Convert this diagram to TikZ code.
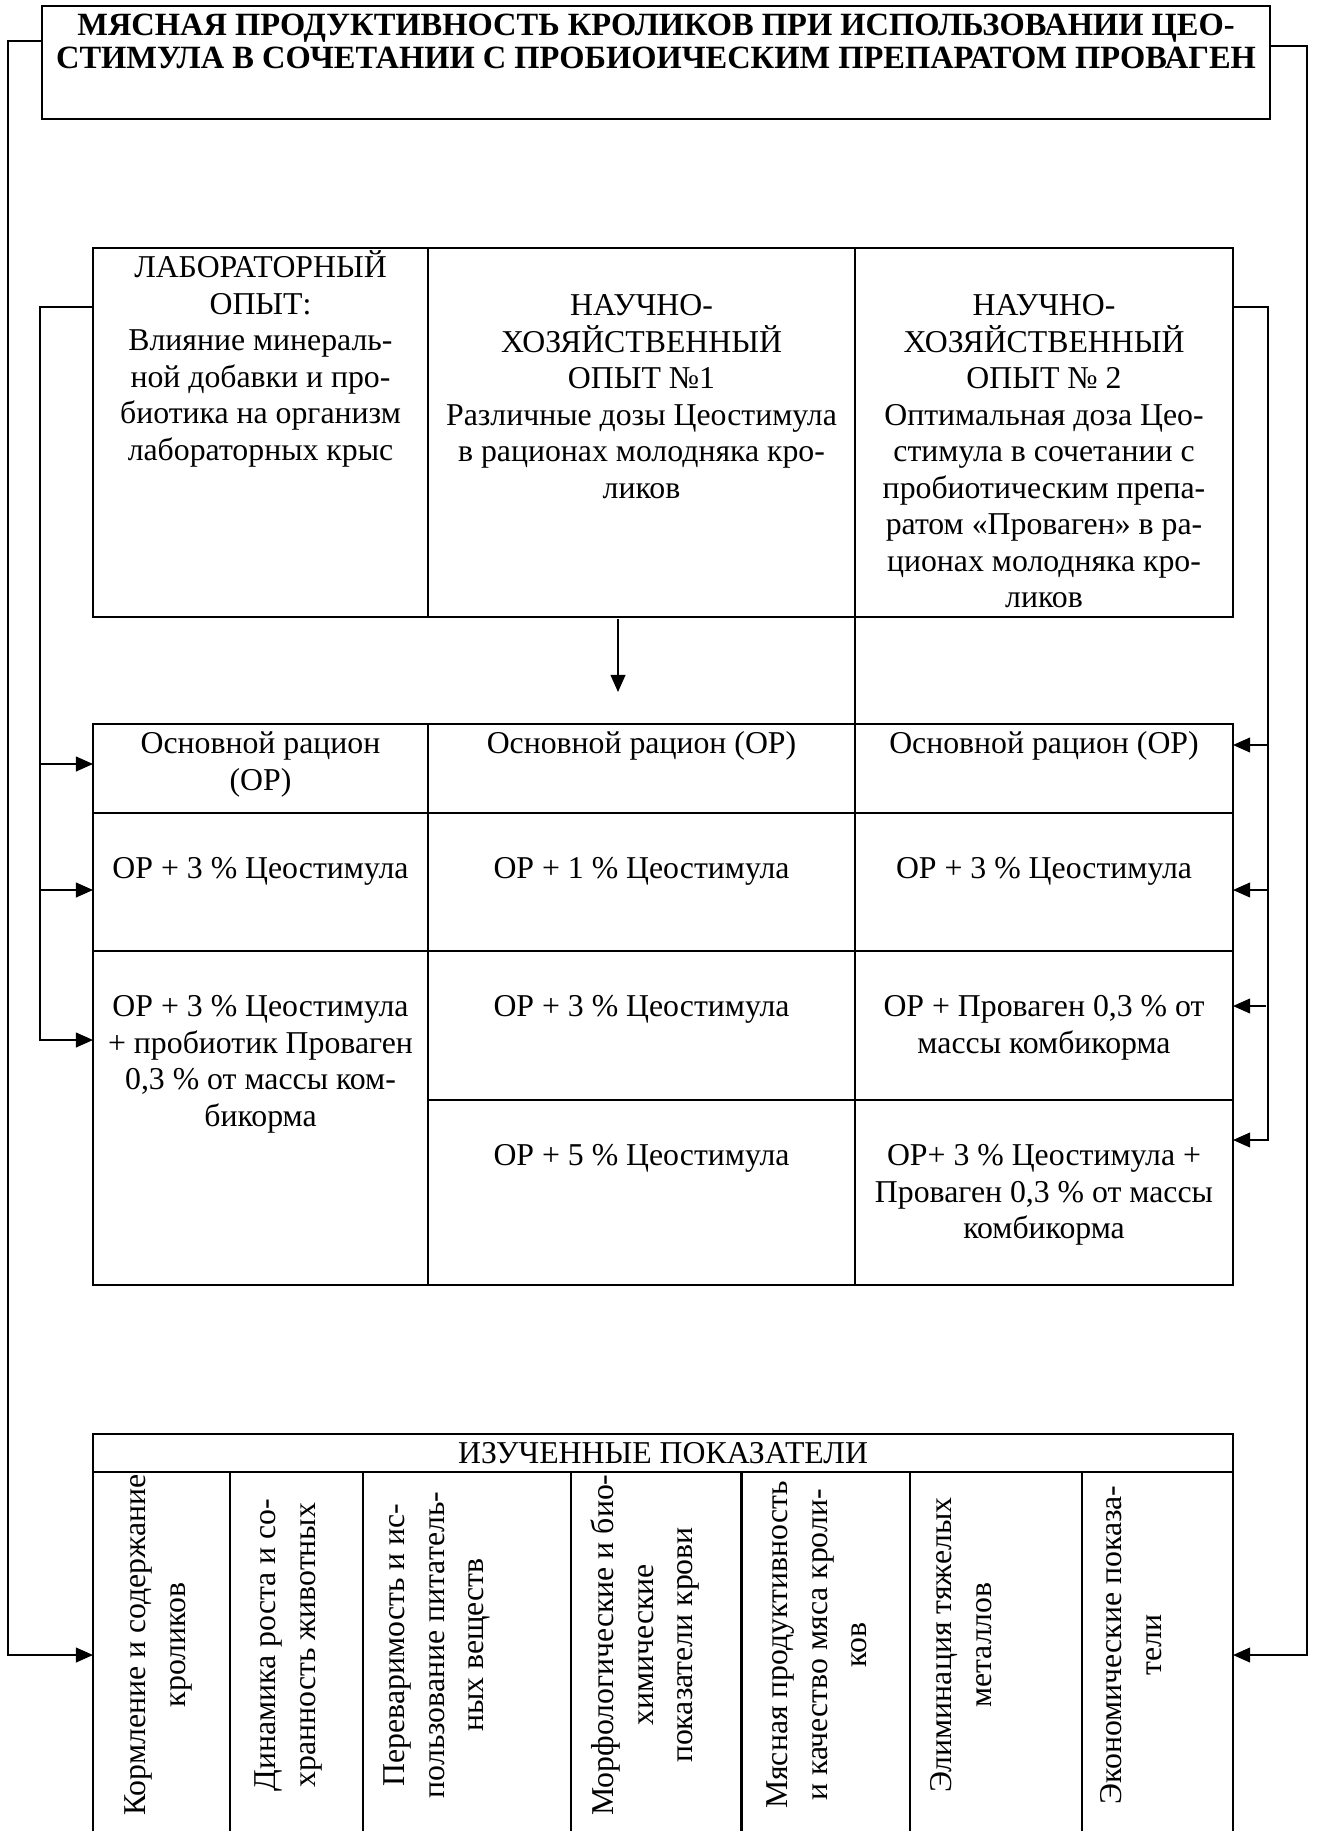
\documentclass[tikz,border=0pt]{standalone}
\usepackage{fontspec}
\setmainfont{Liberation Serif}
\usetikzlibrary{arrows.meta,fit}
\newcommand{\fst}{\rule{0pt}{13.5pt}}
\begin{document}
\begin{tikzpicture}[x=0.4405pt, y=-0.4405pt,
  frame/.style={draw, line width=0.9pt, inner sep=0pt, outer sep=0pt},
  area/.style={inner sep=0pt, outer sep=0pt},
  conn/.style={line width=0.7pt},
  arr/.style={conn, -{Triangle[length=7.5pt,width=6.5pt]}},
  cell/.style={inner sep=0pt, align=center, anchor=north, font=\fontsize{14pt}{16.1pt}\selectfont},
  rcell/.style={inner sep=0pt, align=center, anchor=north, rotate=90, font=\fontsize{14pt}{17.5pt}\selectfont},
  ttext/.style={inner sep=0pt, align=center, anchor=north, font=\fontsize{14.3pt}{14.5pt}\selectfont\bfseries}]
\useasboundingbox (0,0) rectangle (1317,1831);
\fill[white] (0,0) rectangle (1317,1831);

% ---------- title ----------
\node[frame, fit={(42,6) (1270,119)}] (title) {};
\node[ttext] (ttl) at (656,4.4) {\fst МЯСНАЯ ПРОДУКТИВНОСТЬ КРОЛИКОВ ПРИ ИСПОЛЬЗОВАНИИ ЦЕО-\\СТИМУЛА В СОЧЕТАНИИ С ПРОБИОИЧЕСКИМ ПРЕПАРАТОМ ПРОВАГЕН};

% ---------- table 1 ----------
\node[frame, fit={(93,248) (428,617)}] (c11) {};
\node[frame, fit={(428,248) (855,617)}] (c12) {};
\node[frame, fit={(855,248) (1233,617)}] (c13) {};
\node[area, fit=(c11) (c13)] (tbl1) {};

\node[cell] (t11) at (260.5,246.4) {\fst ЛАБОРАТОРНЫЙ\\ОПЫТ:\\Влияние минераль-\\ной добавки и про-\\биотика на организм\\лабораторных крыс};
\node[cell] (t12) at (641.5,284.4) {\fst НАУЧНО-\\ХОЗЯЙСТВЕННЫЙ\\ОПЫТ №1\\Различные дозы Цеостимула\\в рационах молодняка кро-\\ликов};
\node[cell] (t13) at (1044,284.4) {\fst НАУЧНО-\\ХОЗЯЙСТВЕННЫЙ\\ОПЫТ № 2\\Оптимальная доза Цео-\\стимула в сочетании с\\пробиотическим препа-\\ратом «Проваген» в ра-\\ционах молодняка кро-\\ликов};

% ---------- table 2 ----------
\node[frame, fit={(93,724) (428,813)}] (r11) {};
\node[frame, fit={(93,813) (428,951)}] (r12) {};
\node[frame, fit={(93,951) (428,1285)}] (r13) {};
\node[frame, fit={(428,724) (855,813)}] (r21) {};
\node[frame, fit={(428,813) (855,951)}] (r22) {};
\node[frame, fit={(428,951) (855,1100)}] (r23) {};
\node[frame, fit={(428,1100) (855,1285)}] (r24) {};
\node[frame, fit={(855,724) (1233,813)}] (r31) {};
\node[frame, fit={(855,813) (1233,951)}] (r32) {};
\node[frame, fit={(855,951) (1233,1100)}] (r33) {};
\node[frame, fit={(855,1100) (1233,1285)}] (r34) {};
\node[area, fit=(r11) (r34)] (tbl2) {};

\node[cell] (s11) at (260.5,722.4) {\fst Основной рацион\\(ОР)};
\node[cell] (s21) at (641.5,722.4) {\fst Основной рацион (ОР)};
\node[cell] (s31) at (1044,722.4) {\fst Основной рацион (ОР)};
\node[cell] (s12) at (260.5,847.4) {\fst ОР + 3 \% Цеостимула};
\node[cell] (s22) at (641.5,847.4) {\fst ОР + 1 \% Цеостимула};
\node[cell] (s32) at (1044,847.4) {\fst ОР + 3 \% Цеостимула};
\node[cell] (s13) at (260.5,985.4) {\fst ОР + 3 \% Цеостимула\\+ пробиотик Проваген\\0,3 \% от массы ком-\\бикорма};
\node[cell] (s23) at (641.5,985.4) {\fst ОР + 3 \% Цеостимула};
\node[cell] (s33) at (1044,985.4) {\fst ОР + Проваген 0,3 \% от\\массы комбикорма};
\node[cell] (s24) at (641.5,1134.4) {\fst ОР + 5 \% Цеостимула};
\node[cell] (s34) at (1044,1134.4) {\fst ОР+ 3 \% Цеостимула +\\Проваген 0,3 \% от массы\\комбикорма};

% column divider continuing between the tables
\draw[line width=0.9pt] (c13.south west) -- (r31.north west);

% ---------- table 3 ----------
\node[frame, fit={(93,1434) (1233,1472)}] (hdr) {};
\node[cell] (hdrt) at (663,1432.4) {\fst ИЗУЧЕННЫЕ ПОКАЗАТЕЛИ};
\node[frame, fit={(93,1472) (230,1850)}] (k1) {};
\node[frame, fit={(230,1472) (363,1850)}] (k2) {};
\node[frame, fit={(363,1472) (571,1850)}] (k3) {};
\node[frame, fit={(571,1472) (741.5,1850)}] (k4) {};
\node[frame, fit={(741.5,1472) (910,1850)}] (k5) {};
\node[frame, fit={(910,1472) (1082,1850)}] (k6) {};
\node[frame, fit={(1082,1472) (1233,1850)}] (k7) {};
\node[area, fit=(hdr) (k7)] (tbl3) {};

\node[rcell] (q1) at (114.4,1645) {\fst Кормление и содержание\\кроликов};
\node[rcell] (q2) at (244.4,1645) {\fst Динамика роста и со-\\хранность животных};
\node[rcell] (q3) at (373.4,1645) {\fst Переваримость и ис-\\пользование питатель-\\ных веществ};
\node[rcell] (q4) at (582.4,1645) {\fst Морфологические и био-\\химические\\показатели крови};
\node[rcell] (q5) at (756.4,1645) {\fst Мясная продуктивность\\и качество мяса кроли-\\ков};
\node[rcell] (q6) at (920.4,1645) {\fst Элиминация тяжелых\\металлов};
\node[rcell] (q7) at (1090.4,1645) {\fst Экономические показа-\\тели};

% ---------- connectors ----------
\coordinate (lo1) at (8,41);
\coordinate (lo2) at (8,1655);
\draw[arr] (lo1 -| title.west) -- (lo1) -- (lo2) -- (lo2 -| tbl3.west);

\coordinate (ro1) at (1307,46);
\coordinate (ro2) at (1307,1655);
\draw[arr] (ro1 -| title.east) -- (ro1) -- (ro2) -- (ro2 -| tbl3.east);

\coordinate (li1) at (40,307);
\coordinate (la1) at (40,764);
\coordinate (la2) at (40,890);
\coordinate (la3) at (40,1040);
\draw[arr] (li1 -| tbl1.west) -- (li1) -- (la3) -- (la3 -| tbl2.west);
\draw[arr] (la1) -- (la1 -| tbl2.west);
\draw[arr] (la2) -- (la2 -| tbl2.west);

\coordinate (ri1) at (1268,307);
\coordinate (ra1) at (1268,745);
\coordinate (ra2) at (1268,890);
\coordinate (ra3) at (1266,1006);
\coordinate (ra4) at (1268,1140);
\draw[arr] (ri1 -| tbl1.east) -- (ri1) -- (ra4) -- (ra4 -| tbl2.east);
\draw[arr] (ra1) -- (ra1 -| tbl2.east);
\draw[arr] (ra2) -- (ra2 -| tbl2.east);
\draw[arr] (ra3) -- (ra3 -| tbl2.east);

\coordinate (d1) at (618,619);
\coordinate (d2) at (618,692);
\draw[arr] (d1) -- (d2);
\end{tikzpicture}
\end{document}
